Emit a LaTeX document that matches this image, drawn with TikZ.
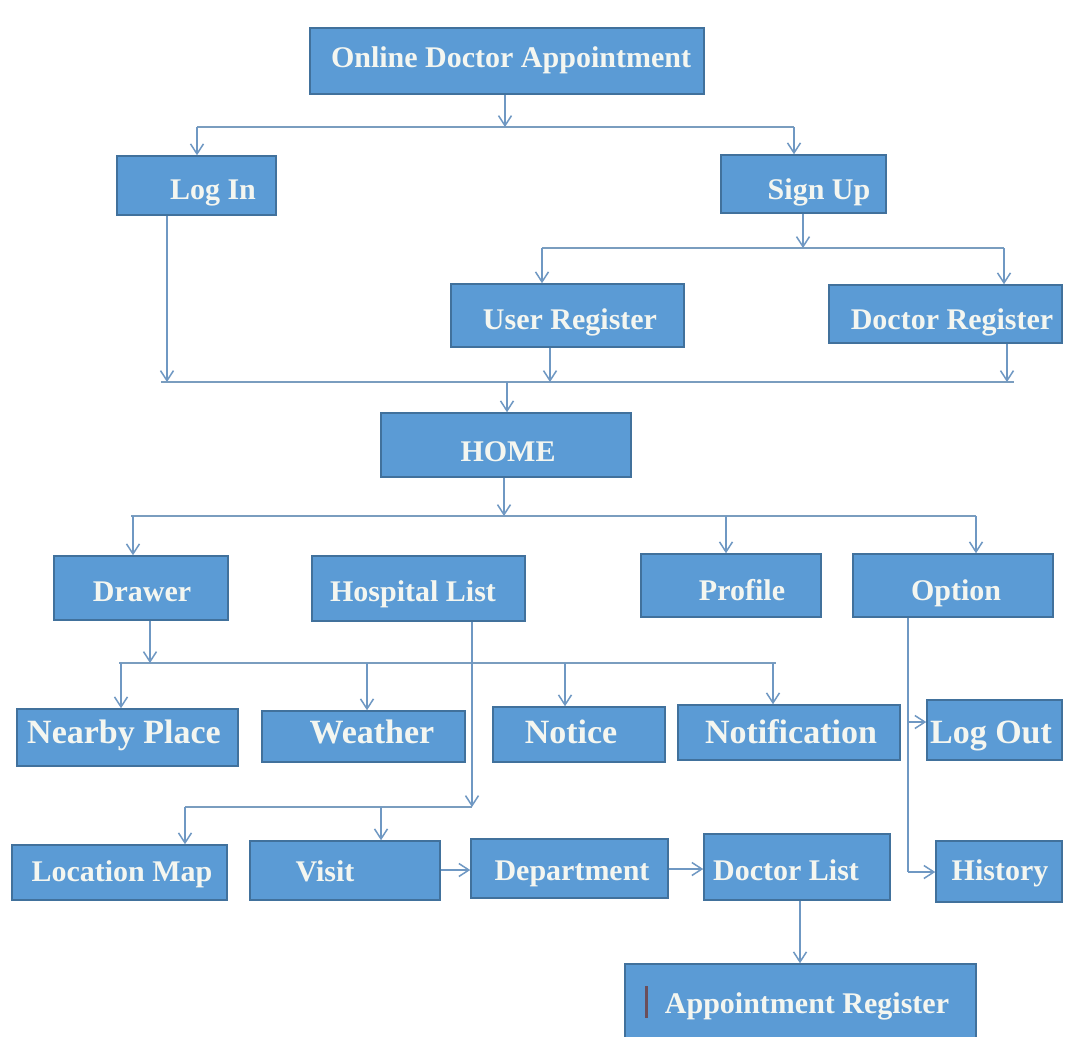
\documentclass[tikz,border=0pt]{standalone}
\usepackage{fontspec}
\setmainfont{Liberation Serif}
\usetikzlibrary{arrows.meta}
\definecolor{boxfill}{HTML}{5B9BD5}
\definecolor{boxline}{HTML}{41719C}
\definecolor{conn}{HTML}{6F98C3}
\definecolor{busc}{HTML}{7A9DBF}
\definecolor{txt}{HTML}{F4F6F0}
\definecolor{cursorc}{HTML}{6B4E5A}
\begin{document}
\begin{tikzpicture}[x=1pt,y=-1pt,
  box/.style={draw=boxline, fill=boxfill, line width=1.5pt, inner sep=0pt},
  lbl/.style={text=txt, font=\bfseries\fontsize{30}{36}\selectfont, anchor=base, inner sep=0pt},
  lblbig/.style={lbl, font=\bfseries\fontsize{34}{40}\selectfont},
  bus/.style={draw=busc, line width=2.8pt},
  arr/.style={draw=conn, line width=1.5pt, -{Straight Barb[length=10pt,width=13pt]}},
]
\useasboundingbox[fill=white] (0,0) rectangle (1067,1036);

% boxes
\node[box, minimum width=394pt, minimum height=66pt] (online) at (507,61) {};
\node[box, minimum width=159pt, minimum height=59pt] (login) at (196.5,185.5) {};
\node[box, minimum width=165pt, minimum height=58pt] (signup) at (803.5,184) {};
\node[box, minimum width=233pt, minimum height=63pt] (user) at (567.5,315.5) {};
\node[box, minimum width=233pt, minimum height=58pt] (docreg) at (945.5,314) {};
\node[box, minimum width=250pt, minimum height=64pt] (home) at (506,445) {};
\node[box, minimum width=174pt, minimum height=64pt] (drawer) at (141,588) {};
\node[box, minimum width=213pt, minimum height=65pt] (hospital) at (418.5,588.5) {};
\node[box, minimum width=180pt, minimum height=63pt] (profile) at (731,585.5) {};
\node[box, minimum width=200pt, minimum height=63pt] (option) at (953,585.5) {};
\node[box, minimum width=221pt, minimum height=57pt] (nearby) at (127.5,737.5) {};
\node[box, minimum width=203pt, minimum height=51pt] (weather) at (363.5,736.5) {};
\node[box, minimum width=172pt, minimum height=55pt] (notice) at (579,734.5) {};
\node[box, minimum width=222pt, minimum height=55pt] (notif) at (789,732.5) {};
\node[box, minimum width=135pt, minimum height=60pt] (logout) at (994.5,730) {};
\node[box, minimum width=215pt, minimum height=55pt] (locmap) at (119.5,872.5) {};
\node[box, minimum width=190pt, minimum height=59pt] (visit) at (345,870.5) {};
\node[box, minimum width=197pt, minimum height=59pt] (dept) at (569.5,868.5) {};
\node[box, minimum width=186pt, minimum height=66pt] (doclist) at (797,867) {};
\node[box, minimum width=126pt, minimum height=61pt] (history) at (999,871.5) {};
\node[box, minimum width=351pt, minimum height=82pt] (appreg) at (800.5,1005) {};

% labels
\node[lbl] (online-t) at (511,67) {Online Doctor Appointment};
\node[lbl] (login-t) at (213,199) {Log In};
\node[lbl] (signup-t) at (819,199) {Sign Up};
\node[lbl] (user-t) at (570,329) {User Register};
\node[lbl] (docreg-t) at (952,329) {Doctor Register};
\node[lbl] (home-t) at (508,461) {HOME};
\node[lbl] (drawer-t) at (142,601) {Drawer};
\node[lbl] (hospital-t) at (413,601) {Hospital List};
\node[lbl] (profile-t) at (742,600) {Profile};
\node[lbl] (option-t) at (956,600) {Option};
\node[lblbig] (nearby-t) at (124,743) {Nearby Place};
\node[lblbig] (weather-t) at (372,743) {Weather};
\node[lblbig] (notice-t) at (571,743) {Notice};
\node[lblbig] (notif-t) at (791,743) {Notification};
\node[lblbig] (logout-t) at (991,743) {Log Out};
\node[lbl] (locmap-t) at (122,881) {Location Map};
\node[lbl] (visit-t) at (325,881) {Visit};
\node[lbl] (dept-t) at (572,880) {Department};
\node[lbl] (doclist-t) at (786,880) {Doctor List};
\node[lbl] (history-t) at (1000,880) {History};
\node[lbl] (appreg-t) at (807,1013) {Appointment Register};
\draw[draw=cursorc, line width=3pt] (646,986) -- (646,1018);

% junction coordinates
\coordinate (j1) at (505,127);
\coordinate (b1L) at (197,127);
\coordinate (b1R) at (794,127);
\coordinate (j2) at (803,248);
\coordinate (b2L) at (542,248);
\coordinate (b2R) at (1004,248);
\coordinate (b3L) at (161,382);
\coordinate (b3R) at (1014,382);
\coordinate (j3a) at (167,382);
\coordinate (j3b) at (550,382);
\coordinate (j3c) at (1007,382);
\coordinate (j3) at (507,382);
\coordinate (j4) at (504,516);
\coordinate (b4L) at (131,516);
\coordinate (b4R) at (976,516);
\coordinate (j4a) at (133,516);
\coordinate (j4b) at (726,516);
\coordinate (j5) at (150,663);
\coordinate (b5L) at (119,663);
\coordinate (b5R) at (776,663);
\coordinate (j5a) at (121,663);
\coordinate (j5b) at (367,663);
\coordinate (j5c) at (565,663);
\coordinate (j5d) at (773,663);
\coordinate (j6) at (472,807);
\coordinate (b6L) at (185,807);
\coordinate (j6b) at (381,807);
\coordinate (o1) at (908,722);
\coordinate (o2) at (908,872);

% buses
\draw[bus] (b1L) -- (b1R);
\draw[bus] (b2L) -- (b2R);
\draw[bus] (b3L) -- (b3R);
\draw[bus] (b4L) -- (b4R);
\draw[bus] (b5L) -- (b5R);
\draw[bus] (b6L) -- (j6);

% arrows
\draw[arr] (online.south -| j1) -- (j1);
\draw[arr] (b1L) -- (b1L |- login.north);
\draw[arr] (b1R) -- (b1R |- signup.north);
\draw[arr] (signup.south -| j2) -- (j2);
\draw[arr] (b2L) -- (b2L |- user.north);
\draw[arr] (b2R) -- (b2R |- docreg.north);
\draw[arr] (login.south -| j3a) -- (j3a);
\draw[arr] (user.south -| j3b) -- (j3b);
\draw[arr] (docreg.south -| j3c) -- (j3c);
\draw[arr] (j3) -- (j3 |- home.north);
\draw[arr] (home.south -| j4) -- (j4);
\draw[arr] (j4a) -- (j4a |- drawer.north);
\draw[arr] (j4b) -- (j4b |- profile.north);
\draw[arr] (b4R) -- (b4R |- option.north);
\draw[arr] (drawer.south -| j5) -- (j5);
\draw[arr] (j5a) -- (j5a |- nearby.north);
\draw[arr] (j5b) -- (j5b |- weather.north);
\draw[arr] (j5c) -- (j5c |- notice.north);
\draw[arr] (j5d) -- (j5d |- notif.north);
\draw[arr] (hospital.south -| j6) -- (j6);
\draw[arr] (b6L) -- (b6L |- locmap.north);
\draw[arr] (j6b) -- (j6b |- visit.north);
\draw[draw=conn, line width=1.5pt] (option.south -| o2) -- (o2);
\draw[arr] (o2) -- (o2 -| history.west);
\draw[arr] (o1) -- (o1 -| logout.west);
\draw[arr] (visit.east |- 0,870) -- (dept.west |- 0,870);
\draw[arr] (dept.east |- 0,869) -- (doclist.west |- 0,869);
\draw[arr] (doclist.south -| 800,0) -- (appreg.north -| 800,0);
\end{tikzpicture}
\end{document}
